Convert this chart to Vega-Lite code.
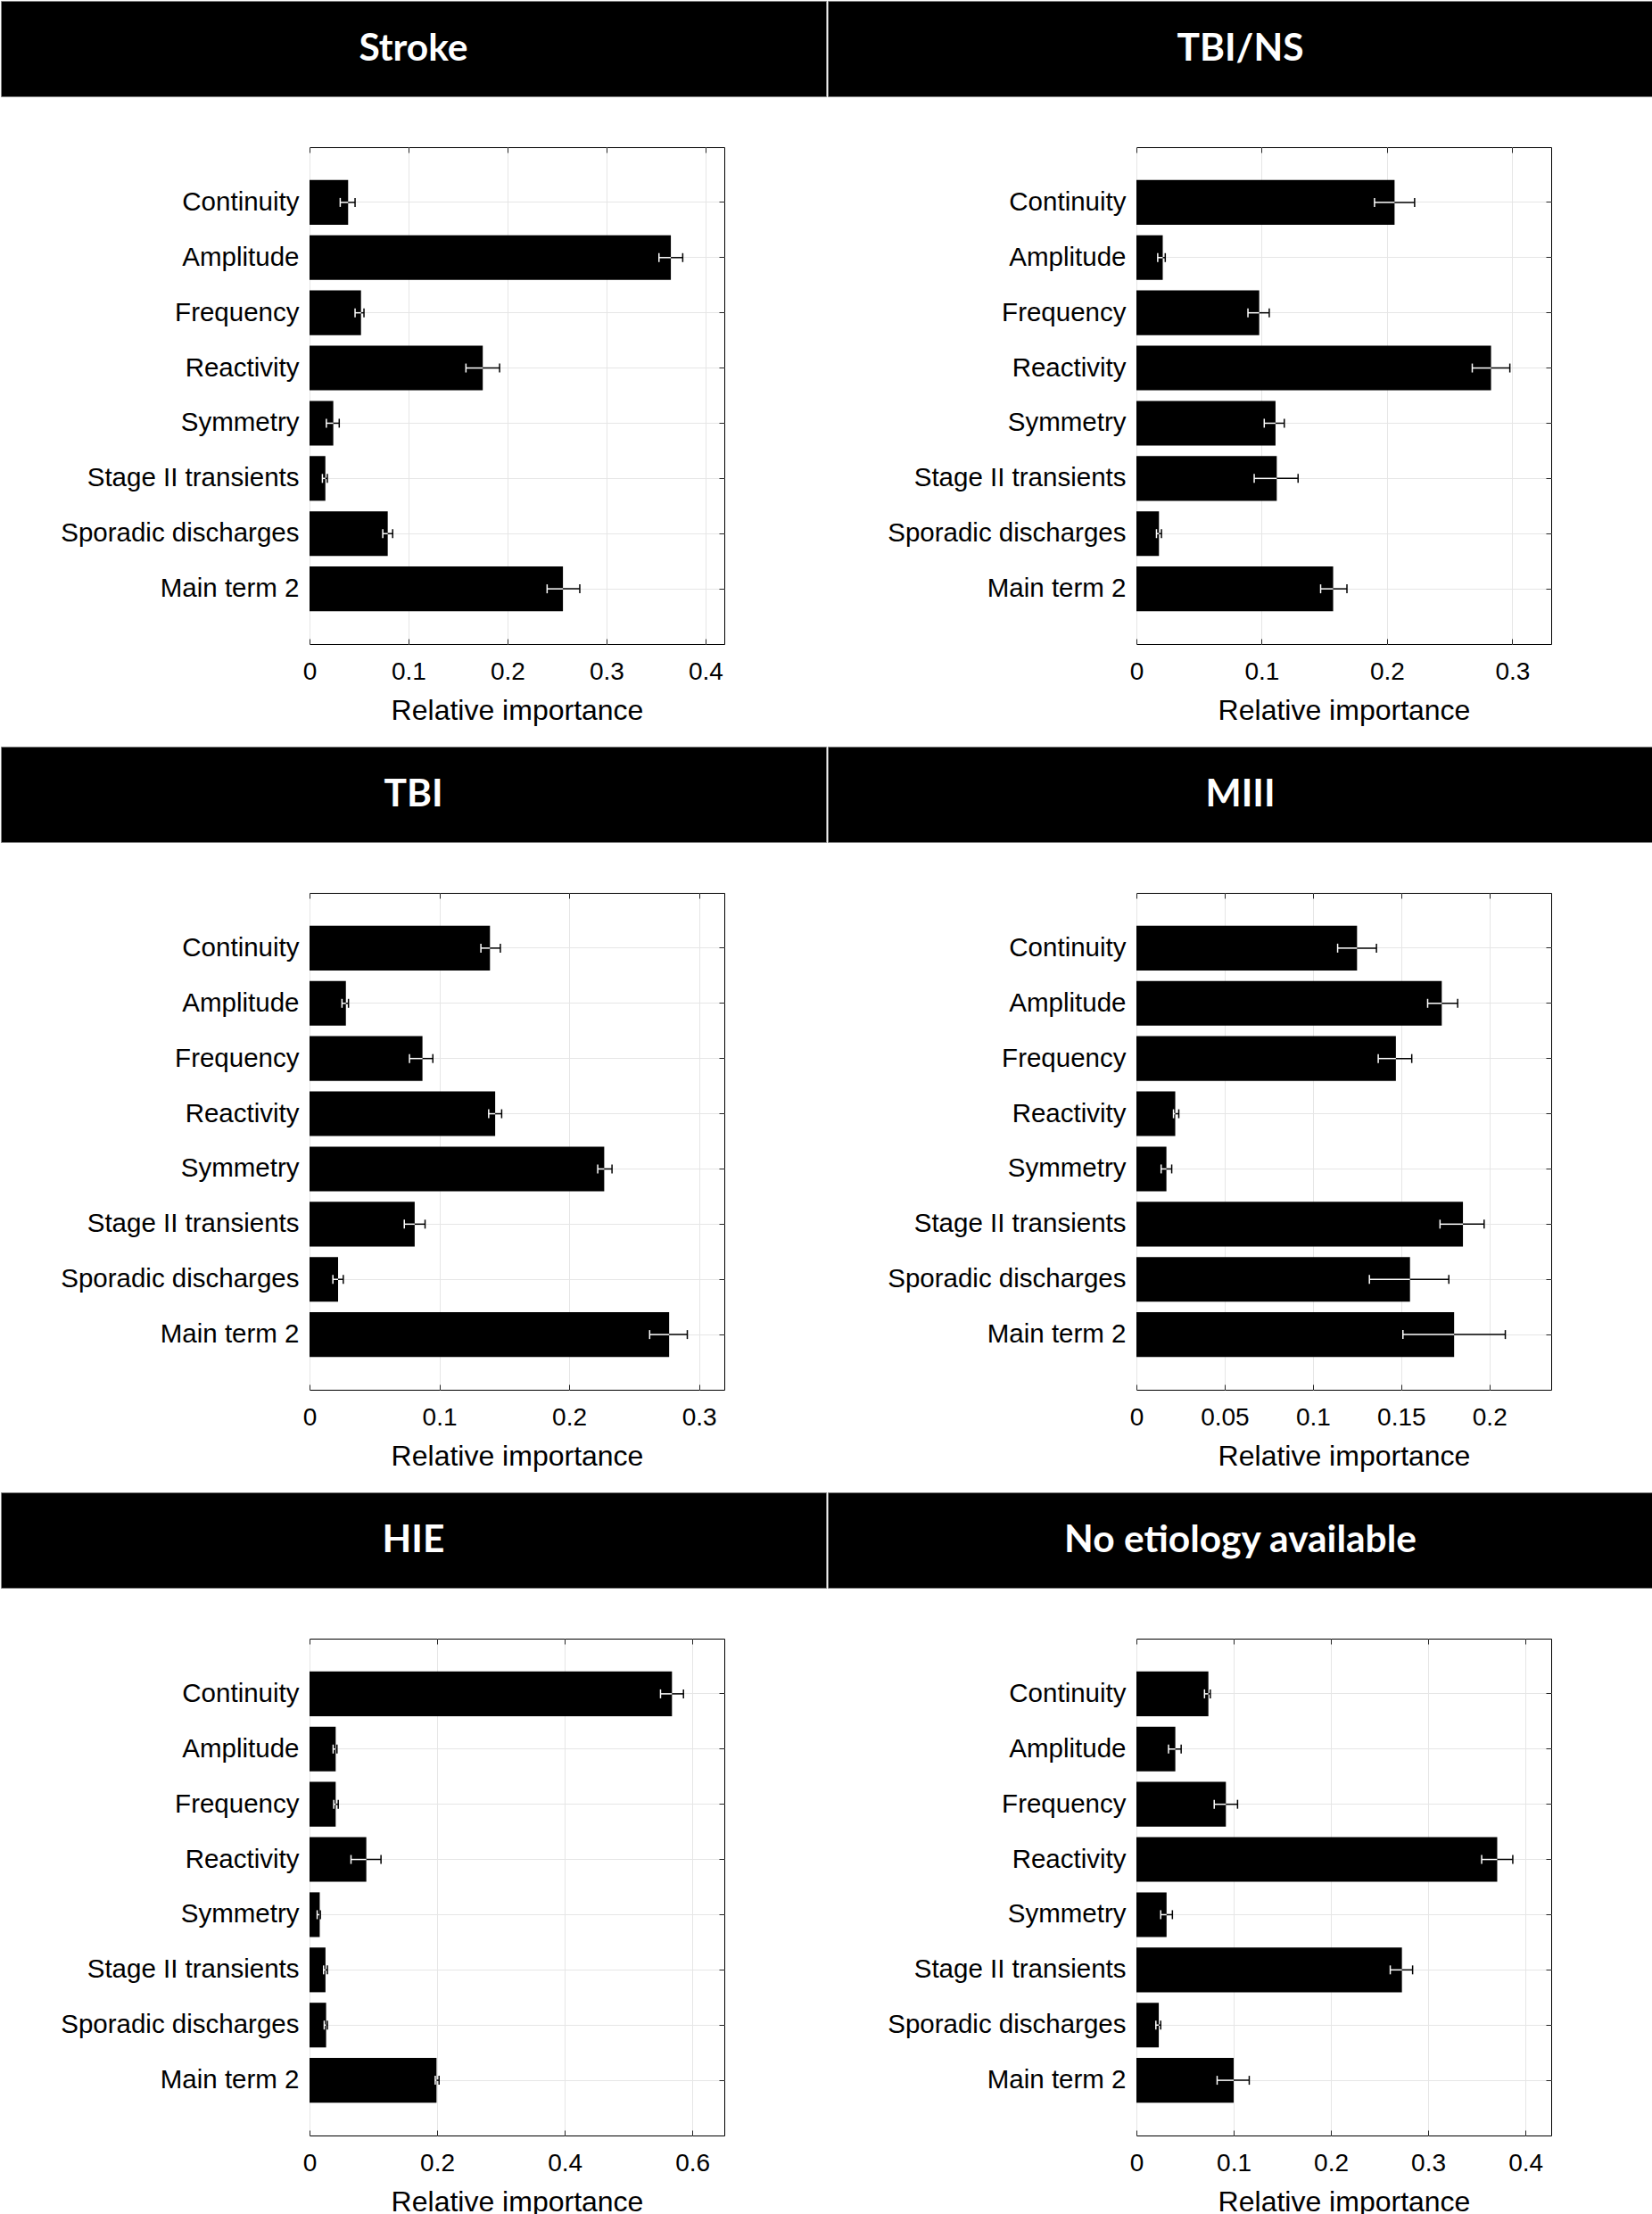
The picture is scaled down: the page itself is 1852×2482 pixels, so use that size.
{
  "$schema": "https://vega.github.io/schema/vega-lite/v6.json",
  "background": "white",
  "padding": 0,
  "spacing": 23,
  "datasets": {
    "imp": [
      {"etiology": "Stroke", "feature": "Continuity", "importance": 0.039, "low": 0.031, "high": 0.046},
      {"etiology": "Stroke", "feature": "Amplitude", "importance": 0.365, "low": 0.353, "high": 0.377},
      {"etiology": "Stroke", "feature": "Frequency", "importance": 0.052, "low": 0.046, "high": 0.055},
      {"etiology": "Stroke", "feature": "Reactivity", "importance": 0.175, "low": 0.158, "high": 0.192},
      {"etiology": "Stroke", "feature": "Symmetry", "importance": 0.024, "low": 0.017, "high": 0.030},
      {"etiology": "Stroke", "feature": "Stage II transients", "importance": 0.016, "low": 0.013, "high": 0.018},
      {"etiology": "Stroke", "feature": "Sporadic discharges", "importance": 0.079, "low": 0.074, "high": 0.084},
      {"etiology": "Stroke", "feature": "Main term 2", "importance": 0.256, "low": 0.240, "high": 0.273},
      {"etiology": "TBI/NS", "feature": "Continuity", "importance": 0.206, "low": 0.190, "high": 0.222},
      {"etiology": "TBI/NS", "feature": "Amplitude", "importance": 0.021, "low": 0.017, "high": 0.023},
      {"etiology": "TBI/NS", "feature": "Frequency", "importance": 0.098, "low": 0.089, "high": 0.106},
      {"etiology": "TBI/NS", "feature": "Reactivity", "importance": 0.283, "low": 0.268, "high": 0.298},
      {"etiology": "TBI/NS", "feature": "Symmetry", "importance": 0.111, "low": 0.102, "high": 0.118},
      {"etiology": "TBI/NS", "feature": "Stage II transients", "importance": 0.112, "low": 0.094, "high": 0.129},
      {"etiology": "TBI/NS", "feature": "Sporadic discharges", "importance": 0.018, "low": 0.016, "high": 0.020},
      {"etiology": "TBI/NS", "feature": "Main term 2", "importance": 0.157, "low": 0.147, "high": 0.168},
      {"etiology": "TBI", "feature": "Continuity", "importance": 0.139, "low": 0.132, "high": 0.147},
      {"etiology": "TBI", "feature": "Amplitude", "importance": 0.028, "low": 0.025, "high": 0.030},
      {"etiology": "TBI", "feature": "Frequency", "importance": 0.087, "low": 0.077, "high": 0.095},
      {"etiology": "TBI", "feature": "Reactivity", "importance": 0.143, "low": 0.138, "high": 0.148},
      {"etiology": "TBI", "feature": "Symmetry", "importance": 0.227, "low": 0.222, "high": 0.233},
      {"etiology": "TBI", "feature": "Stage II transients", "importance": 0.081, "low": 0.073, "high": 0.089},
      {"etiology": "TBI", "feature": "Sporadic discharges", "importance": 0.022, "low": 0.018, "high": 0.026},
      {"etiology": "TBI", "feature": "Main term 2", "importance": 0.277, "low": 0.262, "high": 0.291},
      {"etiology": "MIII", "feature": "Continuity", "importance": 0.125, "low": 0.114, "high": 0.136},
      {"etiology": "MIII", "feature": "Amplitude", "importance": 0.173, "low": 0.165, "high": 0.182},
      {"etiology": "MIII", "feature": "Frequency", "importance": 0.147, "low": 0.137, "high": 0.156},
      {"etiology": "MIII", "feature": "Reactivity", "importance": 0.022, "low": 0.021, "high": 0.024},
      {"etiology": "MIII", "feature": "Symmetry", "importance": 0.017, "low": 0.014, "high": 0.020},
      {"etiology": "MIII", "feature": "Stage II transients", "importance": 0.185, "low": 0.172, "high": 0.197},
      {"etiology": "MIII", "feature": "Sporadic discharges", "importance": 0.155, "low": 0.132, "high": 0.177},
      {"etiology": "MIII", "feature": "Main term 2", "importance": 0.180, "low": 0.151, "high": 0.209},
      {"etiology": "HIE", "feature": "Continuity", "importance": 0.568, "low": 0.550, "high": 0.586},
      {"etiology": "HIE", "feature": "Amplitude", "importance": 0.041, "low": 0.037, "high": 0.043},
      {"etiology": "HIE", "feature": "Frequency", "importance": 0.041, "low": 0.038, "high": 0.045},
      {"etiology": "HIE", "feature": "Reactivity", "importance": 0.089, "low": 0.065, "high": 0.112},
      {"etiology": "HIE", "feature": "Symmetry", "importance": 0.016, "low": 0.012, "high": 0.017},
      {"etiology": "HIE", "feature": "Stage II transients", "importance": 0.025, "low": 0.022, "high": 0.028},
      {"etiology": "HIE", "feature": "Sporadic discharges", "importance": 0.026, "low": 0.023, "high": 0.028},
      {"etiology": "HIE", "feature": "Main term 2", "importance": 0.199, "low": 0.197, "high": 0.203},
      {"etiology": "No etiology available", "feature": "Continuity", "importance": 0.074, "low": 0.070, "high": 0.076},
      {"etiology": "No etiology available", "feature": "Amplitude", "importance": 0.040, "low": 0.033, "high": 0.046},
      {"etiology": "No etiology available", "feature": "Frequency", "importance": 0.092, "low": 0.080, "high": 0.104},
      {"etiology": "No etiology available", "feature": "Reactivity", "importance": 0.371, "low": 0.355, "high": 0.387},
      {"etiology": "No etiology available", "feature": "Symmetry", "importance": 0.031, "low": 0.025, "high": 0.037},
      {"etiology": "No etiology available", "feature": "Stage II transients", "importance": 0.273, "low": 0.261, "high": 0.284},
      {"etiology": "No etiology available", "feature": "Sporadic discharges", "importance": 0.023, "low": 0.020, "high": 0.025},
      {"etiology": "No etiology available", "feature": "Main term 2", "importance": 0.100, "low": 0.083, "high": 0.116}
    ]
  },
  "vconcat": [
    {"spacing": 0, "hconcat": [
      {"spacing": 55, "vconcat": [
        {"width": 925, "height": 107, "view": {"fill": "black", "stroke": "#808080"}, "data": {"values": [{"title": "Stroke"}]},
         "mark": {"type": "text", "color": "white", "font": "Lato", "fontWeight": "bold", "fontSize": 42.5}, "encoding": {"text": {"field": "title"}}},
        {"spacing": 0, "hconcat": [
        {"width": 45, "height": 1, "view": {"stroke": null}, "data": {"values": [{}]}, "mark": {"type": "text", "text": "", "fontSize": 0, "baseline": "top"}, "encoding": {}},
        {"width": 465, "height": 557, "data": {"name": "imp"}, "transform": [{"filter": {"field": "etiology", "equal": "Stroke"}}],
         "resolve": {"axis": {"x": "independent", "y": "independent"}},
         "layer": [
          {"mark": {"type": "bar", "color": "black"}, "encoding": {
            "x": {"field": "importance", "type": "quantitative", "scale": {"domain": [0, 0.419], "nice": false}, "axis": {"orient": "bottom", "values": [0, 0.1, 0.2, 0.3, 0.4], "format": "~g", "grid": true, "labelFlush": false, "title": "Relative importance"}},
            "y": {"field": "feature", "type": "nominal", "sort": ["Continuity","Amplitude","Frequency","Reactivity","Symmetry","Stage II transients","Sporadic discharges","Main term 2"], "scale": {"paddingInner": 0.19, "paddingOuter": 0.595}, "axis": {"orient": "left", "grid": true, "bandPosition": 0.5, "title": null}}}},
          {"mark": {"type": "rule", "color": "black", "strokeWidth": 1.5}, "encoding": {
            "x": {"field": "low", "type": "quantitative", "scale": {"domain": [0, 0.419], "nice": false}, "axis": {"orient": "top", "values": [0, 0.1, 0.2, 0.3, 0.4], "grid": false, "labels": false, "title": null}},
            "x2": {"field": "high"},
            "y": {"field": "feature", "type": "nominal", "sort": ["Continuity","Amplitude","Frequency","Reactivity","Symmetry","Stage II transients","Sporadic discharges","Main term 2"], "scale": {"paddingInner": 0.19, "paddingOuter": 0.595}, "axis": {"orient": "right", "grid": false, "labels": false, "bandPosition": 0.5, "title": null}}}},
          {"mark": {"type": "rule", "color": "white", "strokeWidth": 1.5}, "encoding": {
            "x": {"field": "low", "type": "quantitative", "scale": {"domain": [0, 0.419], "nice": false}, "axis": null},
            "x2": {"field": "importance"},
            "y": {"field": "feature", "type": "nominal", "sort": ["Continuity","Amplitude","Frequency","Reactivity","Symmetry","Stage II transients","Sporadic discharges","Main term 2"], "axis": null}}},
          {"mark": {"type": "tick", "color": "black", "size": 10, "thickness": 1.5, "opacity": 1}, "encoding": {
            "x": {"field": "high", "type": "quantitative", "scale": {"domain": [0, 0.419], "nice": false}, "axis": null},
            "y": {"field": "feature", "type": "nominal", "sort": ["Continuity","Amplitude","Frequency","Reactivity","Symmetry","Stage II transients","Sporadic discharges","Main term 2"], "axis": null}}},
          {"mark": {"type": "tick", "color": "white", "size": 10, "thickness": 1.5, "opacity": 1}, "encoding": {
            "x": {"field": "low", "type": "quantitative", "scale": {"domain": [0, 0.419], "nice": false}, "axis": null},
            "y": {"field": "feature", "type": "nominal", "sort": ["Continuity","Amplitude","Frequency","Reactivity","Symmetry","Stage II transients","Sporadic discharges","Main term 2"], "axis": null}}}
         ]}]}
      ]},
      {"spacing": 55, "vconcat": [
        {"width": 925, "height": 107, "view": {"fill": "black", "stroke": "#808080"}, "data": {"values": [{"title": "TBI/NS"}]},
         "mark": {"type": "text", "color": "white", "font": "Lato", "fontWeight": "bold", "fontSize": 42.5}, "encoding": {"text": {"field": "title"}}},
        {"spacing": 0, "hconcat": [
        {"width": 45, "height": 1, "view": {"stroke": null}, "data": {"values": [{}]}, "mark": {"type": "text", "text": "", "fontSize": 0, "baseline": "top"}, "encoding": {}},
        {"width": 465, "height": 557, "data": {"name": "imp"}, "transform": [{"filter": {"field": "etiology", "equal": "TBI/NS"}}],
         "resolve": {"axis": {"x": "independent", "y": "independent"}},
         "layer": [
          {"mark": {"type": "bar", "color": "black"}, "encoding": {
            "x": {"field": "importance", "type": "quantitative", "scale": {"domain": [0, 0.331], "nice": false}, "axis": {"orient": "bottom", "values": [0, 0.1, 0.2, 0.3], "format": "~g", "grid": true, "labelFlush": false, "title": "Relative importance"}},
            "y": {"field": "feature", "type": "nominal", "sort": ["Continuity","Amplitude","Frequency","Reactivity","Symmetry","Stage II transients","Sporadic discharges","Main term 2"], "scale": {"paddingInner": 0.19, "paddingOuter": 0.595}, "axis": {"orient": "left", "grid": true, "bandPosition": 0.5, "title": null}}}},
          {"mark": {"type": "rule", "color": "black", "strokeWidth": 1.5}, "encoding": {
            "x": {"field": "low", "type": "quantitative", "scale": {"domain": [0, 0.331], "nice": false}, "axis": {"orient": "top", "values": [0, 0.1, 0.2, 0.3], "grid": false, "labels": false, "title": null}},
            "x2": {"field": "high"},
            "y": {"field": "feature", "type": "nominal", "sort": ["Continuity","Amplitude","Frequency","Reactivity","Symmetry","Stage II transients","Sporadic discharges","Main term 2"], "scale": {"paddingInner": 0.19, "paddingOuter": 0.595}, "axis": {"orient": "right", "grid": false, "labels": false, "bandPosition": 0.5, "title": null}}}},
          {"mark": {"type": "rule", "color": "white", "strokeWidth": 1.5}, "encoding": {
            "x": {"field": "low", "type": "quantitative", "scale": {"domain": [0, 0.331], "nice": false}, "axis": null},
            "x2": {"field": "importance"},
            "y": {"field": "feature", "type": "nominal", "sort": ["Continuity","Amplitude","Frequency","Reactivity","Symmetry","Stage II transients","Sporadic discharges","Main term 2"], "axis": null}}},
          {"mark": {"type": "tick", "color": "black", "size": 10, "thickness": 1.5, "opacity": 1}, "encoding": {
            "x": {"field": "high", "type": "quantitative", "scale": {"domain": [0, 0.331], "nice": false}, "axis": null},
            "y": {"field": "feature", "type": "nominal", "sort": ["Continuity","Amplitude","Frequency","Reactivity","Symmetry","Stage II transients","Sporadic discharges","Main term 2"], "axis": null}}},
          {"mark": {"type": "tick", "color": "white", "size": 10, "thickness": 1.5, "opacity": 1}, "encoding": {
            "x": {"field": "low", "type": "quantitative", "scale": {"domain": [0, 0.331], "nice": false}, "axis": null},
            "y": {"field": "feature", "type": "nominal", "sort": ["Continuity","Amplitude","Frequency","Reactivity","Symmetry","Stage II transients","Sporadic discharges","Main term 2"], "axis": null}}}
         ]}]}
      ]}
    ]},
    {"spacing": 0, "hconcat": [
      {"spacing": 55, "vconcat": [
        {"width": 925, "height": 107, "view": {"fill": "black", "stroke": "#808080"}, "data": {"values": [{"title": "TBI"}]},
         "mark": {"type": "text", "color": "white", "font": "Lato", "fontWeight": "bold", "fontSize": 42.5}, "encoding": {"text": {"field": "title"}}},
        {"spacing": 0, "hconcat": [
        {"width": 45, "height": 1, "view": {"stroke": null}, "data": {"values": [{}]}, "mark": {"type": "text", "text": "", "fontSize": 0, "baseline": "top"}, "encoding": {}},
        {"width": 465, "height": 557, "data": {"name": "imp"}, "transform": [{"filter": {"field": "etiology", "equal": "TBI"}}],
         "resolve": {"axis": {"x": "independent", "y": "independent"}},
         "layer": [
          {"mark": {"type": "bar", "color": "black"}, "encoding": {
            "x": {"field": "importance", "type": "quantitative", "scale": {"domain": [0, 0.3195], "nice": false}, "axis": {"orient": "bottom", "values": [0, 0.1, 0.2, 0.3], "format": "~g", "grid": true, "labelFlush": false, "title": "Relative importance"}},
            "y": {"field": "feature", "type": "nominal", "sort": ["Continuity","Amplitude","Frequency","Reactivity","Symmetry","Stage II transients","Sporadic discharges","Main term 2"], "scale": {"paddingInner": 0.19, "paddingOuter": 0.595}, "axis": {"orient": "left", "grid": true, "bandPosition": 0.5, "title": null}}}},
          {"mark": {"type": "rule", "color": "black", "strokeWidth": 1.5}, "encoding": {
            "x": {"field": "low", "type": "quantitative", "scale": {"domain": [0, 0.3195], "nice": false}, "axis": {"orient": "top", "values": [0, 0.1, 0.2, 0.3], "grid": false, "labels": false, "title": null}},
            "x2": {"field": "high"},
            "y": {"field": "feature", "type": "nominal", "sort": ["Continuity","Amplitude","Frequency","Reactivity","Symmetry","Stage II transients","Sporadic discharges","Main term 2"], "scale": {"paddingInner": 0.19, "paddingOuter": 0.595}, "axis": {"orient": "right", "grid": false, "labels": false, "bandPosition": 0.5, "title": null}}}},
          {"mark": {"type": "rule", "color": "white", "strokeWidth": 1.5}, "encoding": {
            "x": {"field": "low", "type": "quantitative", "scale": {"domain": [0, 0.3195], "nice": false}, "axis": null},
            "x2": {"field": "importance"},
            "y": {"field": "feature", "type": "nominal", "sort": ["Continuity","Amplitude","Frequency","Reactivity","Symmetry","Stage II transients","Sporadic discharges","Main term 2"], "axis": null}}},
          {"mark": {"type": "tick", "color": "black", "size": 10, "thickness": 1.5, "opacity": 1}, "encoding": {
            "x": {"field": "high", "type": "quantitative", "scale": {"domain": [0, 0.3195], "nice": false}, "axis": null},
            "y": {"field": "feature", "type": "nominal", "sort": ["Continuity","Amplitude","Frequency","Reactivity","Symmetry","Stage II transients","Sporadic discharges","Main term 2"], "axis": null}}},
          {"mark": {"type": "tick", "color": "white", "size": 10, "thickness": 1.5, "opacity": 1}, "encoding": {
            "x": {"field": "low", "type": "quantitative", "scale": {"domain": [0, 0.3195], "nice": false}, "axis": null},
            "y": {"field": "feature", "type": "nominal", "sort": ["Continuity","Amplitude","Frequency","Reactivity","Symmetry","Stage II transients","Sporadic discharges","Main term 2"], "axis": null}}}
         ]}]}
      ]},
      {"spacing": 55, "vconcat": [
        {"width": 925, "height": 107, "view": {"fill": "black", "stroke": "#808080"}, "data": {"values": [{"title": "MIII"}]},
         "mark": {"type": "text", "color": "white", "font": "Lato", "fontWeight": "bold", "fontSize": 42.5}, "encoding": {"text": {"field": "title"}}},
        {"spacing": 0, "hconcat": [
        {"width": 45, "height": 1, "view": {"stroke": null}, "data": {"values": [{}]}, "mark": {"type": "text", "text": "", "fontSize": 0, "baseline": "top"}, "encoding": {}},
        {"width": 465, "height": 557, "data": {"name": "imp"}, "transform": [{"filter": {"field": "etiology", "equal": "MIII"}}],
         "resolve": {"axis": {"x": "independent", "y": "independent"}},
         "layer": [
          {"mark": {"type": "bar", "color": "black"}, "encoding": {
            "x": {"field": "importance", "type": "quantitative", "scale": {"domain": [0, 0.235], "nice": false}, "axis": {"orient": "bottom", "values": [0, 0.05, 0.1, 0.15, 0.2], "format": "~g", "grid": true, "labelFlush": false, "title": "Relative importance"}},
            "y": {"field": "feature", "type": "nominal", "sort": ["Continuity","Amplitude","Frequency","Reactivity","Symmetry","Stage II transients","Sporadic discharges","Main term 2"], "scale": {"paddingInner": 0.19, "paddingOuter": 0.595}, "axis": {"orient": "left", "grid": true, "bandPosition": 0.5, "title": null}}}},
          {"mark": {"type": "rule", "color": "black", "strokeWidth": 1.5}, "encoding": {
            "x": {"field": "low", "type": "quantitative", "scale": {"domain": [0, 0.235], "nice": false}, "axis": {"orient": "top", "values": [0, 0.05, 0.1, 0.15, 0.2], "grid": false, "labels": false, "title": null}},
            "x2": {"field": "high"},
            "y": {"field": "feature", "type": "nominal", "sort": ["Continuity","Amplitude","Frequency","Reactivity","Symmetry","Stage II transients","Sporadic discharges","Main term 2"], "scale": {"paddingInner": 0.19, "paddingOuter": 0.595}, "axis": {"orient": "right", "grid": false, "labels": false, "bandPosition": 0.5, "title": null}}}},
          {"mark": {"type": "rule", "color": "white", "strokeWidth": 1.5}, "encoding": {
            "x": {"field": "low", "type": "quantitative", "scale": {"domain": [0, 0.235], "nice": false}, "axis": null},
            "x2": {"field": "importance"},
            "y": {"field": "feature", "type": "nominal", "sort": ["Continuity","Amplitude","Frequency","Reactivity","Symmetry","Stage II transients","Sporadic discharges","Main term 2"], "axis": null}}},
          {"mark": {"type": "tick", "color": "black", "size": 10, "thickness": 1.5, "opacity": 1}, "encoding": {
            "x": {"field": "high", "type": "quantitative", "scale": {"domain": [0, 0.235], "nice": false}, "axis": null},
            "y": {"field": "feature", "type": "nominal", "sort": ["Continuity","Amplitude","Frequency","Reactivity","Symmetry","Stage II transients","Sporadic discharges","Main term 2"], "axis": null}}},
          {"mark": {"type": "tick", "color": "white", "size": 10, "thickness": 1.5, "opacity": 1}, "encoding": {
            "x": {"field": "low", "type": "quantitative", "scale": {"domain": [0, 0.235], "nice": false}, "axis": null},
            "y": {"field": "feature", "type": "nominal", "sort": ["Continuity","Amplitude","Frequency","Reactivity","Symmetry","Stage II transients","Sporadic discharges","Main term 2"], "axis": null}}}
         ]}]}
      ]}
    ]},
    {"spacing": 0, "hconcat": [
      {"spacing": 55, "vconcat": [
        {"width": 925, "height": 107, "view": {"fill": "black", "stroke": "#808080"}, "data": {"values": [{"title": "HIE"}]},
         "mark": {"type": "text", "color": "white", "font": "Lato", "fontWeight": "bold", "fontSize": 42.5}, "encoding": {"text": {"field": "title"}}},
        {"spacing": 0, "hconcat": [
        {"width": 45, "height": 1, "view": {"stroke": null}, "data": {"values": [{}]}, "mark": {"type": "text", "text": "", "fontSize": 0, "baseline": "top"}, "encoding": {}},
        {"width": 465, "height": 557, "data": {"name": "imp"}, "transform": [{"filter": {"field": "etiology", "equal": "HIE"}}],
         "resolve": {"axis": {"x": "independent", "y": "independent"}},
         "layer": [
          {"mark": {"type": "bar", "color": "black"}, "encoding": {
            "x": {"field": "importance", "type": "quantitative", "scale": {"domain": [0, 0.65], "nice": false}, "axis": {"orient": "bottom", "values": [0, 0.2, 0.4, 0.6], "format": "~g", "grid": true, "labelFlush": false, "title": "Relative importance"}},
            "y": {"field": "feature", "type": "nominal", "sort": ["Continuity","Amplitude","Frequency","Reactivity","Symmetry","Stage II transients","Sporadic discharges","Main term 2"], "scale": {"paddingInner": 0.19, "paddingOuter": 0.595}, "axis": {"orient": "left", "grid": true, "bandPosition": 0.5, "title": null}}}},
          {"mark": {"type": "rule", "color": "black", "strokeWidth": 1.5}, "encoding": {
            "x": {"field": "low", "type": "quantitative", "scale": {"domain": [0, 0.65], "nice": false}, "axis": {"orient": "top", "values": [0, 0.2, 0.4, 0.6], "grid": false, "labels": false, "title": null}},
            "x2": {"field": "high"},
            "y": {"field": "feature", "type": "nominal", "sort": ["Continuity","Amplitude","Frequency","Reactivity","Symmetry","Stage II transients","Sporadic discharges","Main term 2"], "scale": {"paddingInner": 0.19, "paddingOuter": 0.595}, "axis": {"orient": "right", "grid": false, "labels": false, "bandPosition": 0.5, "title": null}}}},
          {"mark": {"type": "rule", "color": "white", "strokeWidth": 1.5}, "encoding": {
            "x": {"field": "low", "type": "quantitative", "scale": {"domain": [0, 0.65], "nice": false}, "axis": null},
            "x2": {"field": "importance"},
            "y": {"field": "feature", "type": "nominal", "sort": ["Continuity","Amplitude","Frequency","Reactivity","Symmetry","Stage II transients","Sporadic discharges","Main term 2"], "axis": null}}},
          {"mark": {"type": "tick", "color": "black", "size": 10, "thickness": 1.5, "opacity": 1}, "encoding": {
            "x": {"field": "high", "type": "quantitative", "scale": {"domain": [0, 0.65], "nice": false}, "axis": null},
            "y": {"field": "feature", "type": "nominal", "sort": ["Continuity","Amplitude","Frequency","Reactivity","Symmetry","Stage II transients","Sporadic discharges","Main term 2"], "axis": null}}},
          {"mark": {"type": "tick", "color": "white", "size": 10, "thickness": 1.5, "opacity": 1}, "encoding": {
            "x": {"field": "low", "type": "quantitative", "scale": {"domain": [0, 0.65], "nice": false}, "axis": null},
            "y": {"field": "feature", "type": "nominal", "sort": ["Continuity","Amplitude","Frequency","Reactivity","Symmetry","Stage II transients","Sporadic discharges","Main term 2"], "axis": null}}}
         ]}]}
      ]},
      {"spacing": 55, "vconcat": [
        {"width": 925, "height": 107, "view": {"fill": "black", "stroke": "#808080"}, "data": {"values": [{"title": "No etiology available"}]},
         "mark": {"type": "text", "color": "white", "font": "Lato", "fontWeight": "bold", "fontSize": 42.5}, "encoding": {"text": {"field": "title"}}},
        {"spacing": 0, "hconcat": [
        {"width": 45, "height": 1, "view": {"stroke": null}, "data": {"values": [{}]}, "mark": {"type": "text", "text": "", "fontSize": 0, "baseline": "top"}, "encoding": {}},
        {"width": 465, "height": 557, "data": {"name": "imp"}, "transform": [{"filter": {"field": "etiology", "equal": "No etiology available"}}],
         "resolve": {"axis": {"x": "independent", "y": "independent"}},
         "layer": [
          {"mark": {"type": "bar", "color": "black"}, "encoding": {
            "x": {"field": "importance", "type": "quantitative", "scale": {"domain": [0, 0.4265], "nice": false}, "axis": {"orient": "bottom", "values": [0, 0.1, 0.2, 0.3, 0.4], "format": "~g", "grid": true, "labelFlush": false, "title": "Relative importance"}},
            "y": {"field": "feature", "type": "nominal", "sort": ["Continuity","Amplitude","Frequency","Reactivity","Symmetry","Stage II transients","Sporadic discharges","Main term 2"], "scale": {"paddingInner": 0.19, "paddingOuter": 0.595}, "axis": {"orient": "left", "grid": true, "bandPosition": 0.5, "title": null}}}},
          {"mark": {"type": "rule", "color": "black", "strokeWidth": 1.5}, "encoding": {
            "x": {"field": "low", "type": "quantitative", "scale": {"domain": [0, 0.4265], "nice": false}, "axis": {"orient": "top", "values": [0, 0.1, 0.2, 0.3, 0.4], "grid": false, "labels": false, "title": null}},
            "x2": {"field": "high"},
            "y": {"field": "feature", "type": "nominal", "sort": ["Continuity","Amplitude","Frequency","Reactivity","Symmetry","Stage II transients","Sporadic discharges","Main term 2"], "scale": {"paddingInner": 0.19, "paddingOuter": 0.595}, "axis": {"orient": "right", "grid": false, "labels": false, "bandPosition": 0.5, "title": null}}}},
          {"mark": {"type": "rule", "color": "white", "strokeWidth": 1.5}, "encoding": {
            "x": {"field": "low", "type": "quantitative", "scale": {"domain": [0, 0.4265], "nice": false}, "axis": null},
            "x2": {"field": "importance"},
            "y": {"field": "feature", "type": "nominal", "sort": ["Continuity","Amplitude","Frequency","Reactivity","Symmetry","Stage II transients","Sporadic discharges","Main term 2"], "axis": null}}},
          {"mark": {"type": "tick", "color": "black", "size": 10, "thickness": 1.5, "opacity": 1}, "encoding": {
            "x": {"field": "high", "type": "quantitative", "scale": {"domain": [0, 0.4265], "nice": false}, "axis": null},
            "y": {"field": "feature", "type": "nominal", "sort": ["Continuity","Amplitude","Frequency","Reactivity","Symmetry","Stage II transients","Sporadic discharges","Main term 2"], "axis": null}}},
          {"mark": {"type": "tick", "color": "white", "size": 10, "thickness": 1.5, "opacity": 1}, "encoding": {
            "x": {"field": "low", "type": "quantitative", "scale": {"domain": [0, 0.4265], "nice": false}, "axis": null},
            "y": {"field": "feature", "type": "nominal", "sort": ["Continuity","Amplitude","Frequency","Reactivity","Symmetry","Stage II transients","Sporadic discharges","Main term 2"], "axis": null}}}
         ]}]}
      ]}
    ]}
  ],
  "config": {
    "view": {"stroke": "black", "strokeWidth": 1},
    "axis": {"domain": false, "labelColor": "black", "titleColor": "black", "labelFont": "Liberation Sans", "titleFont": "Liberation Sans", "titleFontWeight": "normal", "tickColor": "#262626", "tickWidth": 1, "gridColor": "#e6e6e6", "gridWidth": 1},
    "axisBottom": {"labelFontSize": 28, "labelPadding": 23, "tickSize": -6, "titleFontSize": 32, "titlePadding": 14, "labelOverlap": false},
    "axisTop": {"tickSize": -6, "minExtent": 0, "maxExtent": 0},
    "axisLeft": {"labelFontSize": 29.5, "labelPadding": 12, "ticks": false, "minExtent": 300, "maxExtent": 300, "labelLimit": 400},
    "axisRight": {"tickSize": -6, "minExtent": 0, "maxExtent": 0}
  }
}
